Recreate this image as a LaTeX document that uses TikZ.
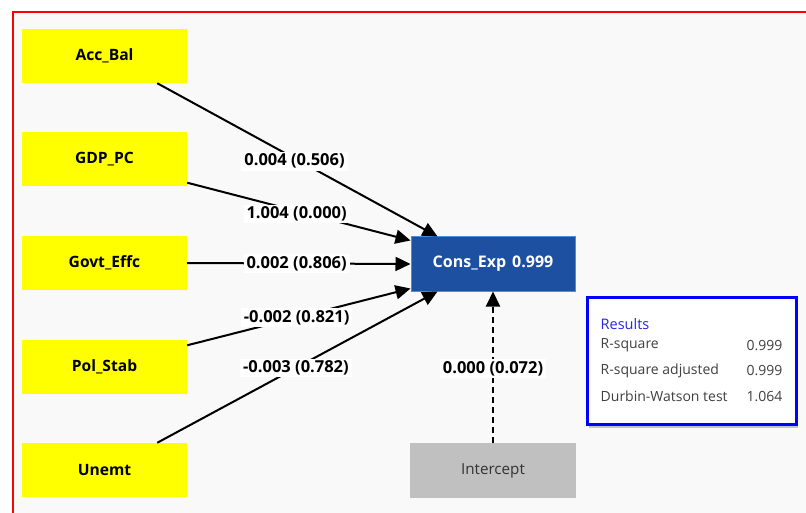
\documentclass[tikz,border=0pt]{standalone}
\usepackage{fontspec}
\setmainfont{Open Sans}
\usetikzlibrary{arrows.meta,shadows}
\definecolor{panel}{HTML}{F9F9F9}
\definecolor{predictor}{HTML}{FFFF00}
\definecolor{target}{HTML}{1E50A2}
\definecolor{targetedge}{HTML}{4A8EE0}
\definecolor{interceptfill}{HTML}{C0C0C0}
\definecolor{resultsedge}{HTML}{0000FF}
\definecolor{resultstitle}{HTML}{2626E8}
\definecolor{resultstext}{HTML}{404040}
\definecolor{frame}{HTML}{FF0000}
\begin{document}
\begin{tikzpicture}[x=1pt,y=-1pt,
  varbox/.style={fill=predictor, minimum width=165pt, minimum height=54pt,
    inner sep=0pt, font=\fontsize{15.6}{18}\selectfont\bfseries},
  targetbox/.style={fill=target, draw=targetedge, line width=1pt,
    minimum width=164pt, minimum height=54pt, inner sep=0pt, text=white,
    font=\fontsize{16}{18}\selectfont\bfseries},
  interbox/.style={fill=interceptfill, minimum width=166pt, minimum height=55pt,
    inner sep=0pt, text=black!80, font=\fontsize{15.2}{18}\selectfont},
  path/.style={line width=2pt, -{Triangle[length=15pt,width=14pt]}},
  coef/.style={fill=white, inner xsep=3pt, inner ysep=2pt, text=black,
    font=\fontsize{16.5}{19}\selectfont\bfseries},
  restext/.style={anchor=west, inner sep=0pt, text=resultstext,
    font=\fontsize{14}{16}\selectfont},
  resval/.style={anchor=east, inner sep=0pt, text=resultstext,
    font=\fontsize{14}{16}\selectfont}]
\useasboundingbox (0,0) rectangle (806,513);
\fill[white] (0,0) rectangle (806,513);
\fill[panel] (13,12) rectangle (806,513);
\draw[frame, line width=2pt] (13,513) -- (13,12) -- (806,12);

% predictor boxes
\node[varbox] (acc)  at (104.5,56)    {Acc\_Bal};
\node[varbox] (gdp)  at (104.5,159.5) {GDP\_PC};
\node[varbox] (govt) at (104.5,263)   {Govt\_Effc};
\node[varbox] (pol)  at (104.5,366.5) {Pol\_Stab};
\node[varbox] (unem) at (104.5,470)   {Unemt};

% dependent variable and intercept
\node[targetbox] (cons) at (493,264) {Cons\_Exp\hspace{6pt}0.999};
\node[interbox]  (inter) at (493,470.5) {Intercept};

% path coefficients (p-values)
\draw[path] ([xshift=-30pt]acc.south east) -- ([xshift=27pt]cons.north west)
  node[coef, pos=0.49, yshift=-3pt] {0.004 (0.506)};
\draw[path] ([yshift=4pt]gdp.south east) -- ([yshift=-4pt]cons.north west)
  node[coef, pos=0.49, yshift=-3pt] {1.004 (0.000)};
\draw[path] (govt.east) -- (cons.west)
  node[coef, pos=0.49] {0.002 (0.806)};
\draw[path] ([yshift=-6pt]pol.north east) -- ([yshift=3pt]cons.south west)
  node[coef, pos=0.49] {-0.002 (0.821)};
\draw[path] ([xshift=-30pt]unem.north east) -- ([xshift=27pt]cons.south west)
  node[coef, pos=0.495] {-0.003 (0.782)};
\draw[path, dash pattern=on 6pt off 4pt] (inter.north) -- (cons.south)
  node[coef, pos=0.49] {0.000 (0.072)};

% model fit summary
\node[draw=resultsedge, line width=3pt, fill=white, minimum width=209pt,
  minimum height=127pt, inner sep=0pt,
  drop shadow={shadow xshift=2pt, shadow yshift=-4pt, opacity=0.45}]
  (res) at (691.5,360.5) {};
\node[restext, text=resultstitle, font=\fontsize{14.5}{16}\selectfont]
  (restitle) at ([xshift=15pt,yshift=-29pt]res.north west) {Results};
\node[restext] (r1) at ([xshift=15pt,yshift=-50pt]res.north west) {R-square};
\node[restext] (r2) at ([xshift=15pt,yshift=-75pt]res.north west) {R-square adjusted};
\node[restext] (r3) at ([xshift=15pt,yshift=-101pt]res.north west) {Durbin-Watson test};
\node[resval] (v1) at ([xshift=-15pt,yshift=-50pt]res.north east) {0.999};
\node[resval] (v2) at ([xshift=-15pt,yshift=-75pt]res.north east) {0.999};
\node[resval] (v3) at ([xshift=-15pt,yshift=-101pt]res.north east) {1.064};
\end{tikzpicture}
\end{document}
